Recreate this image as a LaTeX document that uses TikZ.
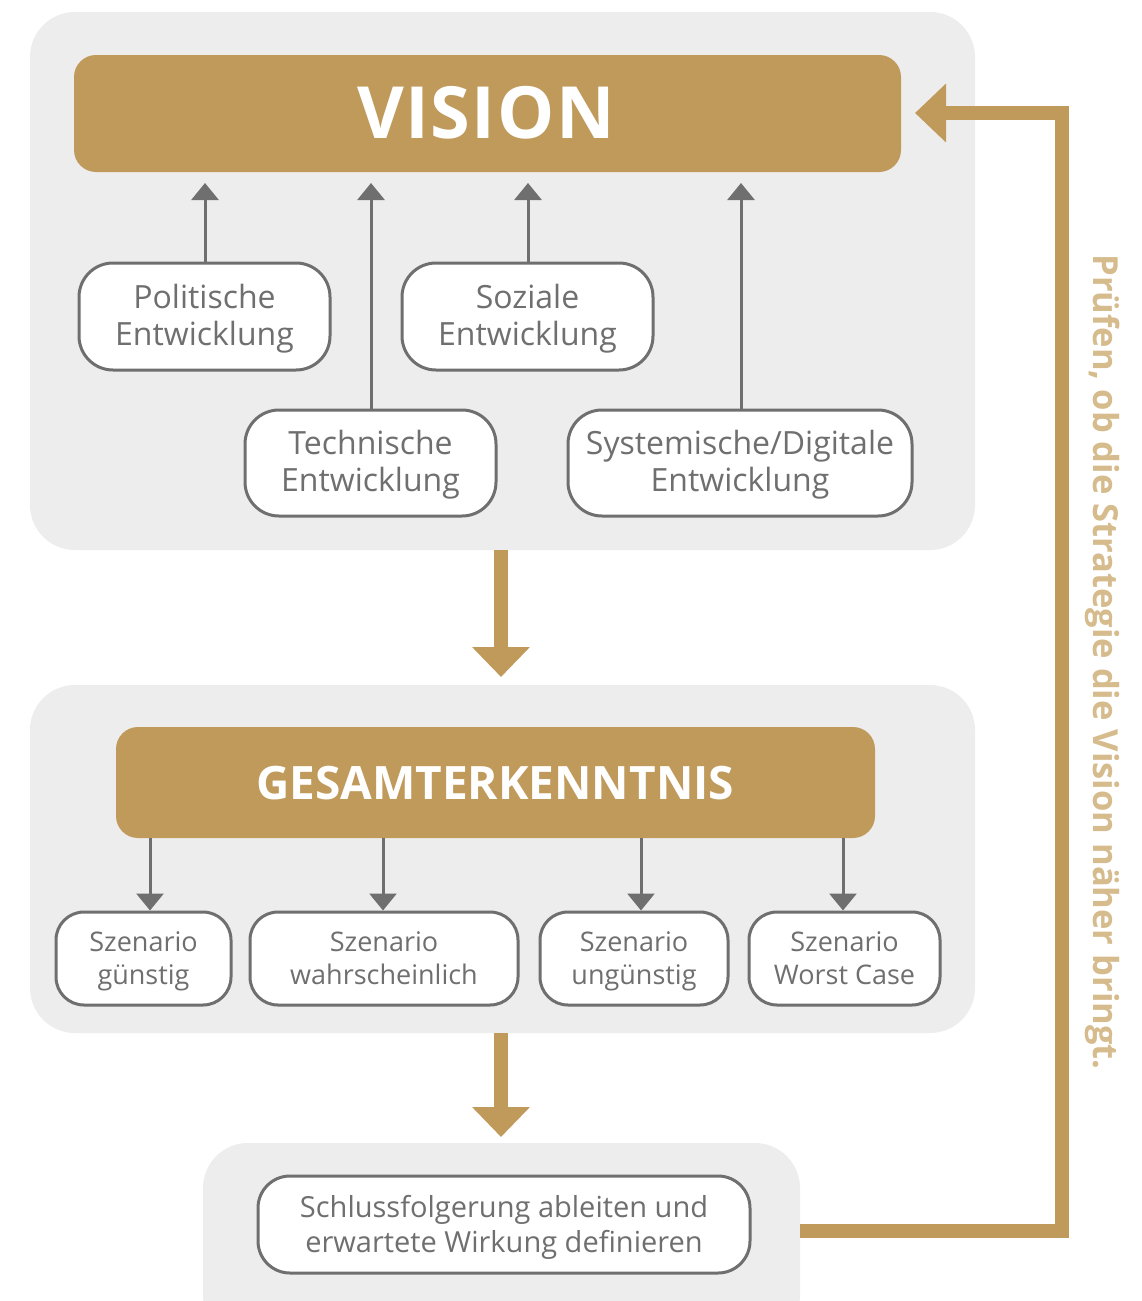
\documentclass[tikz,border=0pt]{standalone}
\usepackage{fontspec}
\setmainfont{Open Sans}
\usetikzlibrary{arrows.meta}
\definecolor{gold}{HTML}{C09A5B}
\definecolor{panel}{HTML}{EDEDED}
\definecolor{boxgray}{HTML}{6F6F6F}
\definecolor{lightgold}{HTML}{D6BB8C}
\newcommand\topstrut{\rule{0pt}{\dimexpr0.7\baselineskip+6pt\relax}}
\tikzset{
  panelbox/.style={fill=panel, draw=none, rounded corners=45pt},
  goldbar/.style={fill=gold, draw=none, rounded corners=22pt},
  entbox/.style={draw=boxgray, line width=3pt, fill=white, rounded corners=34pt, text=boxgray, align=center, font=\fontsize{32}{37}\selectfont, inner sep=0pt},
  szbox/.style={draw=boxgray, line width=3pt, fill=white, rounded corners=28pt, text=boxgray, align=center, font=\fontsize{27}{33}\selectfont, inner sep=0pt},
  grayarrow/.style={draw=boxgray, line width=3pt, -{Triangle[length=17pt,width=27pt]}},
  goldarrow/.style={draw=gold, line width=14pt, -{Triangle[length=30pt,width=56pt]}},
}
\begin{document}
\begin{tikzpicture}[x=1pt,y=-1pt]
\clip (0,0) rectangle (1141,1301);
\fill[white] (0,0) rectangle (1141,1301);
% panels
\path[panelbox] (30,12) rectangle (975,550);
\path[panelbox] (30,685) rectangle (975,1033);
\path[panelbox] (203,1143) rectangle (800,1340);
% vision bar
\path[goldbar] (74,55) rectangle (901,172);
\node[text=white, font=\fontsize{72}{72}\bfseries\addfontfeature{LetterSpace=2}] (vision) at (486,113) {VISION};
% development boxes
\node[entbox, minimum width=251pt, minimum height=107pt] (pol) at (204.5,316.5) {\topstrut Politische\\Entwicklung\strut};
\node[entbox, minimum width=251pt, minimum height=107pt] (soz) at (527.5,316.5) {\topstrut Soziale\\Entwicklung\strut};
\node[entbox, minimum width=251pt, minimum height=106pt] (tec) at (370.5,463) {\topstrut Technische\\Entwicklung\strut};
\node[entbox, minimum width=344pt, minimum height=106pt] (sys) at (740,463) {\topstrut Systemische/Digitale\\Entwicklung\strut};
\coordinate (t1) at (205,183);
\coordinate (t2) at (371,183);
\coordinate (t3) at (528,183);
\coordinate (t4) at (741,183);
\draw[grayarrow] (pol.north -| t1) -- (t1);
\draw[grayarrow] (tec.north -| t2) -- (t2);
\draw[grayarrow] (soz.north -| t3) -- (t3);
\draw[grayarrow] (sys.north -| t4) -- (t4);
% gold arrow 1
\coordinate (a1s) at (501,550);
\coordinate (a1e) at (501,677);
\draw[goldarrow] (a1s) -- (a1e);
% gesamterkenntnis
\path[goldbar] (116,727) rectangle (875,838);
\node[text=white, font=\fontsize{46}{46}\bfseries] (ges) at (495,783) {GESAMTERKENNTNIS};
\node[szbox, minimum width=175pt, minimum height=93pt] (s1) at (143.5,958.5) {\topstrut Szenario\\günstig\strut};
\node[szbox, minimum width=268pt, minimum height=93pt] (s2) at (384,958.5) {\topstrut Szenario\\wahrscheinlich\strut};
\node[szbox, minimum width=188pt, minimum height=93pt] (s3) at (634,958.5) {\topstrut Szenario\\ungünstig\strut};
\node[szbox, minimum width=191pt, minimum height=93pt] (s4) at (844.5,958.5) {\topstrut Szenario\\Worst Case\strut};
\coordinate (g1) at (150,838);
\coordinate (g2) at (383,838);
\coordinate (g3) at (641,838);
\coordinate (g4) at (843,838);
\draw[grayarrow] (g1) -- (g1 |- s1.north);
\draw[grayarrow] (g2) -- (g2 |- s2.north);
\draw[grayarrow] (g3) -- (g3 |- s3.north);
\draw[grayarrow] (g4) -- (g4 |- s4.north);
% gold arrow 2
\coordinate (a2s) at (501,1033);
\coordinate (a2e) at (501,1137);
\draw[goldarrow] (a2s) -- (a2e);
% conclusion
\node[szbox, font=\fontsize{29}{35}\selectfont, rounded corners=32pt, minimum width=492pt, minimum height=97pt] (sch) at (504,1224.5) {\topstrut Schlussfolgerung ableiten und\\erwartete Wirkung definieren\strut};
% feedback
\coordinate (fb1) at (800,1231);
\coordinate (fb2) at (1062,1231);
\coordinate (fb3) at (1062,113);
\coordinate (fb4) at (915,113);
\draw[draw=gold, line width=14pt, -{Triangle[length=31pt,width=57pt]}] (fb1) -- (fb2) -- (fb3) -- (fb4);
\node[rotate=-90, text=lightgold, font=\fontsize{34.5}{34.5}\bfseries] (pruef) at (1103,662) {Prüfen, ob die Strategie die Vision näher bringt.};
\end{tikzpicture}
\end{document}
